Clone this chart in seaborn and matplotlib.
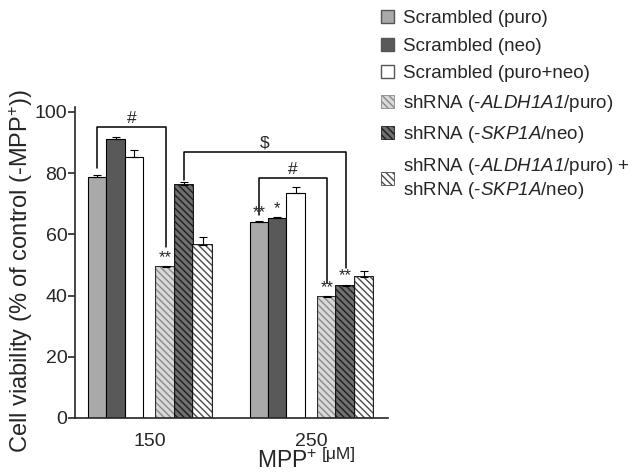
import numpy as np
import pandas as pd
import matplotlib
matplotlib.use("Agg")
import matplotlib.pyplot as plt
import matplotlib.patheffects as pe
from matplotlib.patches import Patch
import seaborn as sns

doses = ["150", "250"]
groups = [
    "Scrambled (puro)",
    "Scrambled (neo)",
    "Scrambled (puro+neo)",
    "shRNA (-$\\mathsf{ALDH1A1}$/puro)",
    "shRNA (-$\\mathsf{SKP1A}$/neo)",
    "shRNA (-$\\mathsf{ALDH1A1}$/puro) +\nshRNA (-$\\mathsf{SKP1A}$/neo)",
]
viability_150 = [78.7, 91.2, 85.3, 49.4, 76.1, 56.5]
viability_250 = [63.9, 65.3, 73.4, 39.4, 43.1, 46.2]
error_150 = [0.7, 0.6, 2.3, 0.4, 1.1, 2.5]
error_250 = [0.4, 0.3, 2.2, 0.4, 0.5, 1.8]
stars_150 = ["", "", "", "**", "", ""]
stars_250 = ["**", "*", "", "**", "**", ""]

face_colors = ["#a9a9a9", "#595959", "#ffffff", "#d9d9d9", "#707070", "#ffffff"]
hatch_colors = [None, None, None, "#8a8a8a", "#1e1e1e", "#4a4a4a"]
hatches = [None, None, None, "\\\\\\\\\\", "\\\\\\\\\\", "\\\\\\\\\\"]

# brackets: (dose, group) left, (dose, group) right, left leg end, top, right leg end, label
brackets = [
    (("150", 0), ("150", 3), 81.7, 95.0, 56.0, "#"),
    (("150", 4), ("250", 4), 77.8, 87.0, 49.0, "\\$"),
    (("250", 0), ("250", 3), 66.3, 78.5, 44.0, "#"),
]

df = pd.DataFrame({
    "dose": np.repeat(doses, len(groups)),
    "group": groups * len(doses),
    "viability": viability_150 + viability_250,
    "err": error_150 + error_250,
    "stars": stars_150 + stars_250,
})

sns.set_style("ticks")
plt.rcParams["font.family"] = ["Liberation Sans", "DejaVu Sans"]
plt.rcParams["mathtext.fontset"] = "custom"
plt.rcParams["mathtext.rm"] = "Liberation Sans"
plt.rcParams["mathtext.it"] = "Liberation Sans:italic"
plt.rcParams["mathtext.sf"] = "Liberation Sans:italic"
plt.rcParams["hatch.linewidth"] = 1.0

fig = plt.figure(figsize=(6.3, 4.74), dpi=100)
ax = fig.add_axes([75 / 630, 1 - 418 / 474, 313 / 630, 311 / 474])

sns.barplot(data=df, x="dose", y="viability", hue="group", order=doses,
            hue_order=groups, palette=face_colors, width=0.687, legend=False,
            edgecolor="black", linewidth=0.8, saturation=1, errorbar=None, ax=ax)

# split each group into two triplets with a small gap
gap = 0.08
centers = {}
for i, cont in enumerate(ax.containers):
    shift = -gap / 2 if i < 3 else gap / 2
    for j, bar in enumerate(cont.patches):
        bar.set_x(bar.get_x() + shift)
        if hatches[i]:
            bar.set_hatch(hatches[i])
            bar.set_edgecolor(hatch_colors[i])
            bar.set_linewidth(0.3)
            bar.set_path_effects([pe.Stroke(linewidth=1.3, foreground="black"), pe.Normal()])
        centers[(doses[j], i)] = bar.get_x() + bar.get_width() / 2

for _, row in df.iterrows():
    gi = groups.index(row["group"])
    cx = centers[(row["dose"], gi)]
    ax.errorbar(cx, row["viability"], yerr=[[0], [row["err"]]], fmt="none",
                ecolor="black", elinewidth=0.8, capsize=3, capthick=0.8)
    if row["stars"]:
        ax.text(cx, row["viability"] + row["err"] + 0.3, row["stars"],
                ha="center", va="bottom", fontsize=12)

for left, right, yl, ytop, yr, label in brackets:
    x0, x1 = centers[left], centers[right]
    ax.plot([x0, x0, x1, x1], [yl, ytop, ytop, yr], color="black", lw=1.1,
            clip_on=False)
    ax.text((x0 + x1) / 2, ytop + 0.3, label, ha="center", va="bottom", fontsize=12.5)

ax.set_xlim(-0.464, 1.474)
ax.set_ylim(0, 101.6)
ax.set_yticks([0, 20, 40, 60, 80, 100])
ax.tick_params(axis="y", labelsize=14, length=5, width=1.2, pad=0.5)
ax.tick_params(axis="x", labelsize=14, length=0, pad=11)
for s in ["left", "bottom"]:
    ax.spines[s].set_linewidth(1.2)
sns.despine(ax=ax)

ax.set_xlabel("")
ax.set_ylabel("Cell viability (% of control (-MPP$^{\\mathregular{+}}$))", fontsize=17)
ax.yaxis.set_label_coords(-0.128, 0.473)
fig.text(257 / 630, 1 - 461 / 474, "MPP$^{\\mathregular{+}}$", fontsize=16.5,
         ha="left", va="center")
fig.text(322 / 630, 1 - 455 / 474, "[μM]", fontsize=12.5, ha="left", va="center")

handles = []
for i in range(len(groups)):
    if hatches[i]:
        handles.append(Patch(facecolor=face_colors[i], edgecolor=hatch_colors[i],
                             hatch=hatches[i], linewidth=0.6))
    else:
        handles.append(Patch(facecolor=face_colors[i], edgecolor="#555555", linewidth=1.0))
fig.legend(handles=handles, labels=groups, loc="upper left",
           bbox_to_anchor=(381 / 630, 1 - 10 / 474), frameon=False, fontsize=13.5,
           handlelength=0.7, handleheight=0.7, handletextpad=0.45,
           labelspacing=0.56, borderpad=0, borderaxespad=0)

fig.savefig("out.png", dpi=100)
